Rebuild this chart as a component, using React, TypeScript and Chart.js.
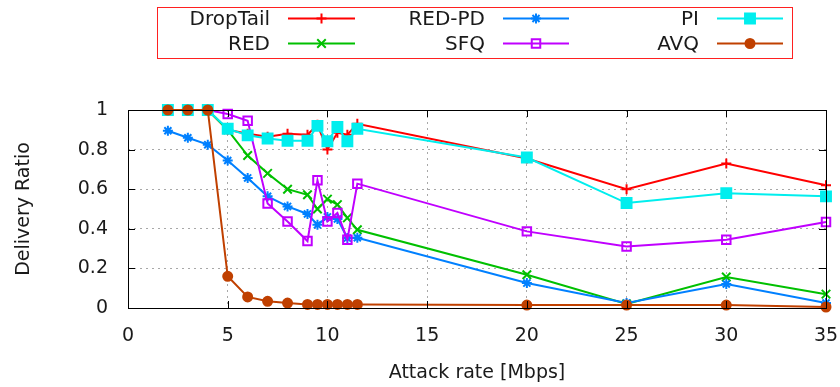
import React, { useEffect, useRef } from "react";
import { Chart, registerables, PointElement } from "chart.js";

Chart.register(...registerables);

const xValues = [2, 3, 4, 5, 6, 7, 8, 9, 9.5, 10, 10.5, 11, 11.5, 20, 25, 30, 35];
const dropTail = [1, 1, 1, 0.9, 0.88, 0.865, 0.88, 0.875, 0.925, 0.8, 0.885, 0.875, 0.93, 0.755, 0.6, 0.73, 0.62];
const red = [1, 1, 1, 0.9, 0.77, 0.68, 0.6, 0.572, 0.5, 0.55, 0.522, 0.455, 0.395, 0.168, 0.02, 0.157, 0.07];
const redPd = [0.895, 0.86, 0.825, 0.745, 0.657, 0.564, 0.513, 0.475, 0.42, 0.46, 0.45, 0.353, 0.355, 0.126, 0.025, 0.121, 0.025];
const sfq = [1, 1, 1, 0.98, 0.946, 0.528, 0.437, 0.338, 0.645, 0.437, 0.48, 0.345, 0.628, 0.387, 0.311, 0.345, 0.434];
const pi = [1, 1, 1, 0.905, 0.872, 0.856, 0.845, 0.845, 0.92, 0.842, 0.914, 0.842, 0.905, 0.76, 0.53, 0.58, 0.564];
const avq = [1, 1, 1, 0.16, 0.056, 0.034, 0.025, 0.018, 0.018, 0.018, 0.018, 0.018, 0.018, 0.015, 0.015, 0.015, 0.005];

const xTicks = [0, 5, 10, 15, 20, 25, 30, 35];
const yTicks = [0, 0.2, 0.4, 0.6, 0.8, 1];

const seriesNames = ["DropTail", "RED", "RED-PD", "SFQ", "PI", "AVQ"];
const seriesValues = [dropTail, red, redPd, sfq, pi, avq];
const seriesColors = ["#ff0000", "#00c000", "#0080ff", "#c000ff", "#00eeee", "#c04000"];
const seriesStyles = ["cross", "crossRot", "star", "rect", "rect", "circle"];
const seriesRadius = [5, 6, 5, 6, 7, 4.5];
const seriesFill = [true, true, true, false, true, true];

const FONT = "'DejaVu Sans', sans-serif";
const TEXT = "#1a1a1a";

const legendPlugin = {
  id: "gnuLegend",
  afterDraw(chart: any) {
    const ctx = chart.ctx;
    ctx.save();
    ctx.strokeStyle = "#ff2020";
    ctx.lineWidth = 1;
    ctx.strokeRect(157.5, 7.5, 635, 51);
    const textRight = [270, 485, 699];
    const lineStart = [288, 503, 717];
    const lineEnd = [355, 569, 783];
    const rowY = [18.5, 43.5];
    const rowBase = [24.5, 49.5];
    ctx.font = "20px " + FONT;
    ctx.textAlign = "right";
    ctx.textBaseline = "alphabetic";
    chart.data.datasets.forEach((ds: any, i: number) => {
      const col = Math.floor(i / 2);
      const row = i % 2;
      ctx.fillStyle = TEXT;
      ctx.fillText(ds.label, textRight[col], rowBase[row]);
      ctx.strokeStyle = ds.borderColor;
      ctx.lineWidth = 2;
      ctx.beginPath();
      ctx.moveTo(lineStart[col], rowY[row]);
      ctx.lineTo(lineEnd[col], rowY[row]);
      ctx.stroke();
      const pt = new (PointElement as any)({
        x: (lineStart[col] + lineEnd[col]) / 2,
        y: rowY[row],
        options: {
          pointStyle: ds.pointStyle,
          radius: ds.pointRadius,
          borderWidth: ds.pointBorderWidth,
          borderColor: ds.borderColor,
          backgroundColor: ds.pointBackgroundColor,
          rotation: 0,
          hitRadius: 1,
        },
      });
      pt.draw(ctx, { left: 0, top: 0, right: 840, bottom: 387 });
    });
    ctx.restore();
  },
};

const framePlugin = {
  id: "gnuFrame",
  afterDatasetsDraw(chart: any) {
    const { ctx, chartArea } = chart;
    const xs = chart.scales.x;
    const ys = chart.scales.y;
    const { left, right, top, bottom } = chartArea;
    ctx.save();
    ctx.strokeStyle = "#000000";
    ctx.lineWidth = 1;
    ctx.beginPath();
    const tl = 7;
    xTicks.forEach((v) => {
      const px = Math.round(xs.getPixelForValue(v)) + 0.5;
      ctx.moveTo(px, bottom);
      ctx.lineTo(px, bottom - tl);
      ctx.moveTo(px, top);
      ctx.lineTo(px, top + tl);
    });
    yTicks.forEach((v) => {
      const py = Math.round(ys.getPixelForValue(v)) + 0.5;
      ctx.moveTo(left, py);
      ctx.lineTo(left + tl, py);
      ctx.moveTo(right, py);
      ctx.lineTo(right - tl, py);
    });
    ctx.stroke();
    ctx.strokeRect(Math.round(left) + 0.5, Math.round(top) + 0.5, Math.round(right - left), Math.round(bottom - top));
    ctx.restore();
  },
};

export default function App() {
  const ref = useRef<HTMLCanvasElement | null>(null);
  useEffect(() => {
    document.body.style.margin = "0";
    const canvas = ref.current;
    if (!canvas) return;
    const datasets = seriesNames.map((name, i) => ({
      label: name,
      data: xValues.map((x, j) => ({ x, y: seriesValues[i][j] })),
      borderColor: seriesColors[i],
      backgroundColor: seriesColors[i],
      pointBackgroundColor: seriesFill[i] ? seriesColors[i] : "rgba(0,0,0,0)",
      pointBorderColor: seriesColors[i],
      pointStyle: seriesStyles[i],
      pointRadius: seriesRadius[i],
      pointBorderWidth: 2,
      borderWidth: 2,
      tension: 0,
      clip: false,
      order: seriesNames.length - i,
    }));
    const chart = new Chart(canvas, {
      type: "line",
      data: { datasets },
      options: {
        animation: false,
        responsive: false,
        maintainAspectRatio: false,
        layout: { padding: { top: 110, right: 14, left: 0, bottom: 0 } },
        plugins: { legend: { display: false }, tooltip: { enabled: false } },
        scales: {
          x: {
            type: "linear",
            min: 0,
            max: 35,
            afterBuildTicks: (s: any) => {
              s.ticks = xTicks.map((v) => ({ value: v }));
            },
            afterFit: (s: any) => {
              s.height = 79;
              s.paddingLeft = 0;
              s.paddingRight = 0;
            },
            ticks: {
              color: TEXT,
              font: { family: FONT, size: 19 },
              padding: 17,
              maxRotation: 0,
              callback: (v: any) => String(v),
            },
            grid: { color: "#a8a8a8", lineWidth: 1, drawTicks: false },
            border: { display: false, dash: [2, 4] },
            title: {
              display: true,
              text: "Attack rate [Mbps]",
              color: TEXT,
              font: { family: FONT, size: 19 },
              padding: { top: 0, bottom: 3 },
            },
          },
          y: {
            type: "linear",
            min: 0,
            max: 1,
            afterBuildTicks: (s: any) => {
              s.ticks = yTicks.map((v) => ({ value: v }));
            },
            afterFit: (s: any) => {
              s.width = 128;
              s.paddingTop = 0;
              s.paddingBottom = 0;
            },
            ticks: {
              color: TEXT,
              font: { family: FONT, size: 19 },
              padding: 20,
              callback: (v: any) => String(Math.round(v * 10) / 10),
            },
            grid: { color: "#a8a8a8", lineWidth: 1, drawTicks: false },
            border: { display: false, dash: [2, 4] },
            title: {
              display: true,
              text: "Delivery Ratio",
              color: TEXT,
              font: { family: FONT, size: 19 },
              padding: { top: 13, bottom: 0 },
            },
          },
        },
      },
      plugins: [framePlugin, legendPlugin],
    });
    return () => chart.destroy();
  }, []);
  return (
    <div style={{ position: "absolute", left: 0, top: 0, width: 840, height: 387, background: "#fff" }}>
      <canvas ref={ref} width={840} height={387} style={{ display: "block", width: 840, height: 387 }} />
    </div>
  );
}
